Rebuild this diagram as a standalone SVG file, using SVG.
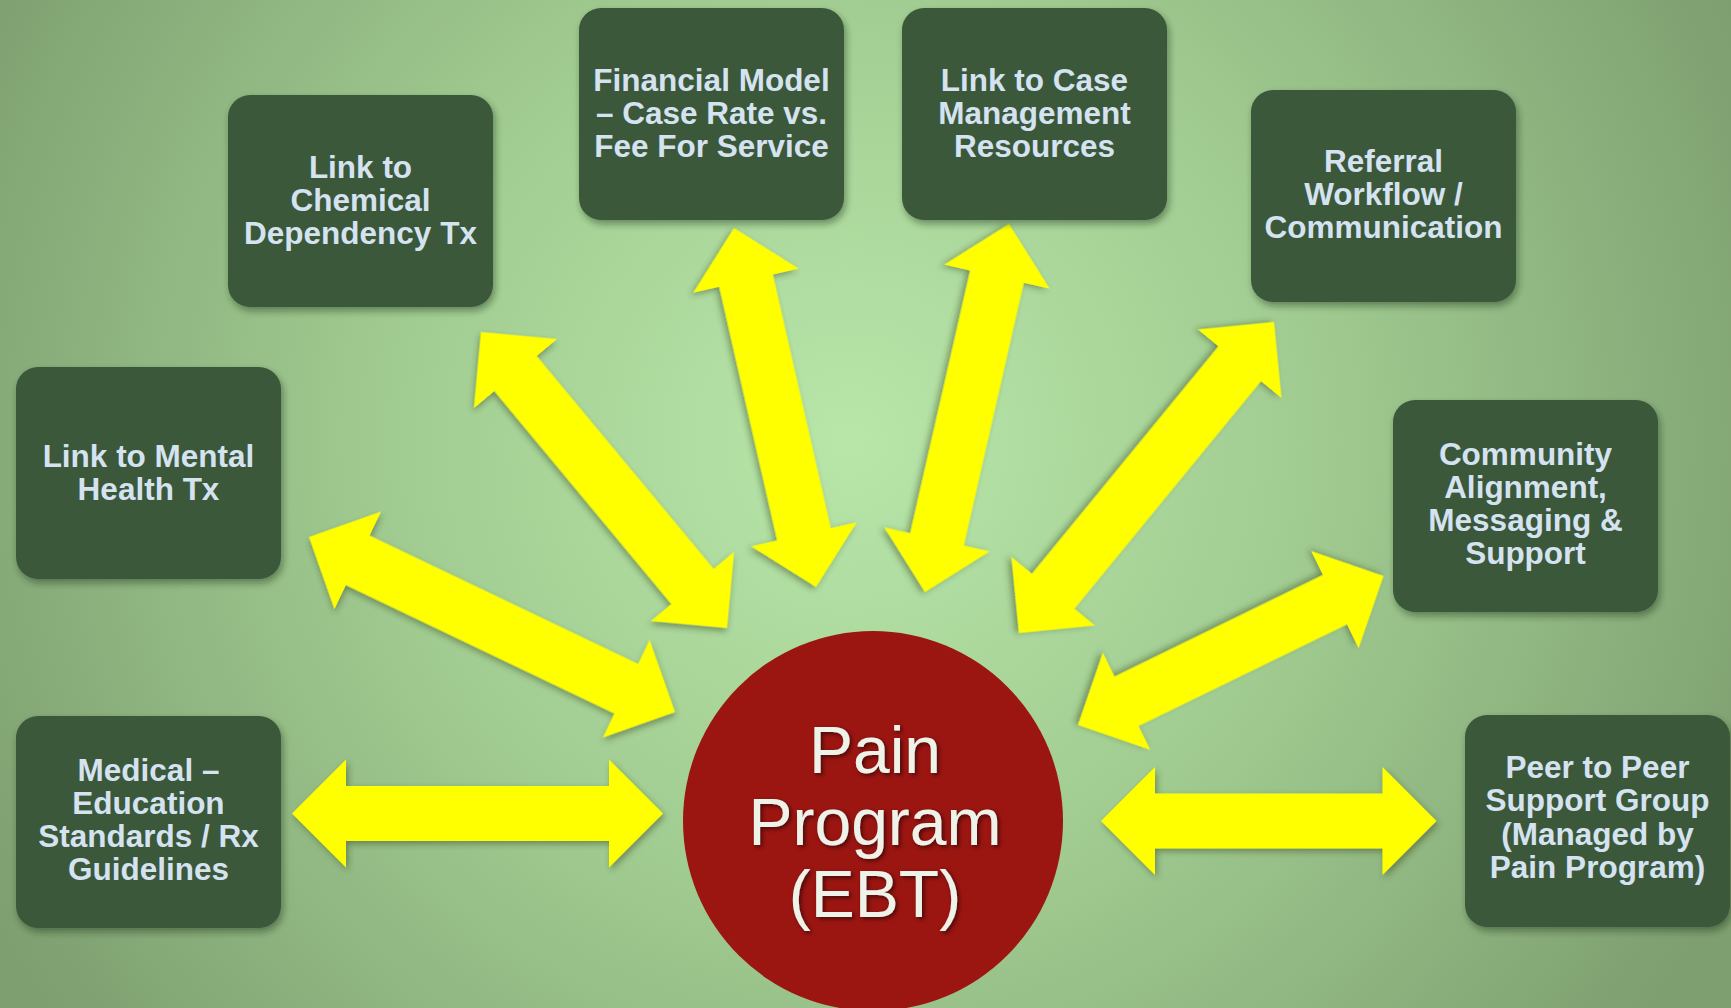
<svg xmlns="http://www.w3.org/2000/svg" width="1731" height="1008" viewBox="0 0 1731 1008">
<defs>
<radialGradient id="bg" gradientUnits="userSpaceOnUse" cx="850" cy="440" r="980">
<stop offset="0" stop-color="#B8E6A9"/>
<stop offset="0.45" stop-color="#A2CD92"/>
<stop offset="1" stop-color="#7E9F70"/>
</radialGradient>
<filter id="boxShadow" x="-10%" y="-10%" width="125%" height="130%">
<feDropShadow dx="2" dy="4" stdDeviation="3.5" flood-color="#1e2e1e" flood-opacity="0.45"/>
</filter>
<filter id="arrowShadow" x="-10%" y="-30%" width="125%" height="160%">
<feDropShadow dx="2" dy="3" stdDeviation="3" flood-color="#2a3a1a" flood-opacity="0.45"/>
</filter>
<filter id="textGlow" x="-10%" y="-20%" width="120%" height="150%">
<feDropShadow dx="2" dy="2" stdDeviation="2" flood-color="#000000" flood-opacity="0.55"/>
</filter>
<style>
.box{fill:#3A583A;filter:url(#boxShadow);}
.lbl{font-family:"Liberation Sans",Arial,sans-serif;font-weight:bold;font-size:31.5px;fill:#D5E2F0;text-anchor:middle;}
.arrow{fill:#FFFF00;filter:url(#arrowShadow);}
.hub{fill:#9B1511;}
.hubtxt{font-family:"Liberation Sans",Arial,sans-serif;font-size:66px;fill:#EEF3EA;text-anchor:middle;filter:url(#textGlow);}
</style>
</defs>
<rect x="0" y="0" width="1731" height="1008" fill="url(#bg)"/>

<g id="connectors">
<path class="arrow" transform="translate(292,813.5)" d="M0,0 54,-54 54,-27.5 317,-27.5 317,-54 371,0 317,54 317,27.5 54,27.5 54,54Z"/>
<path class="arrow" transform="translate(309,537) rotate(25.56)" d="M0,0 54,-54 54,-27.5 351.7,-27.5 351.7,-54 405.7,0 351.7,54 351.7,27.5 54,27.5 54,54Z"/>
<path class="arrow" transform="translate(481,332) rotate(50.27)" d="M0,0 54,-54 54,-27.5 330.9,-27.5 330.9,-54 384.9,0 330.9,54 330.9,27.5 54,27.5 54,54Z"/>
<path class="arrow" transform="translate(734,228) rotate(77.13)" d="M0,0 54,-54 54,-27.5 314.2,-27.5 314.2,-54 368.2,0 314.2,54 314.2,27.5 54,27.5 54,54Z"/>
<path class="arrow" transform="translate(1009,224) rotate(102.86)" d="M0,0 54,-54 54,-27.5 323.5,-27.5 323.5,-54 377.5,0 323.5,54 323.5,27.5 54,27.5 54,54Z"/>
<path class="arrow" transform="translate(1274,322) rotate(129.35)" d="M0,0 54,-54 54,-27.5 348.2,-27.5 348.2,-54 402.2,0 348.2,54 348.2,27.5 54,27.5 54,54Z"/>
<path class="arrow" transform="translate(1383.5,576) rotate(154)" d="M0,0 54,-54 54,-27.5 285.9,-27.5 285.9,-54 339.9,0 285.9,54 285.9,27.5 54,27.5 54,54Z"/>
<path class="arrow" transform="translate(1101,821)" d="M0,0 54,-54 54,-27.5 281.5,-27.5 281.5,-54 335.5,0 281.5,54 281.5,27.5 54,27.5 54,54Z"/>
</g>

<g id="node-mental">
<rect class="box" x="16" y="367" width="265" height="212" rx="22"/>
<text class="lbl" x="148.5" y="467">Link to Mental</text>
<text class="lbl" x="148.5" y="500">Health Tx</text>
</g>
<g id="node-medical">
<rect class="box" x="16" y="716" width="265" height="212" rx="22"/>
<text class="lbl" x="148.5" y="781">Medical –</text>
<text class="lbl" x="148.5" y="814">Education</text>
<text class="lbl" x="148.5" y="847">Standards / Rx</text>
<text class="lbl" x="148.5" y="880">Guidelines</text>
</g>
<g id="node-chemical">
<rect class="box" x="228" y="95" width="265" height="212" rx="22"/>
<text class="lbl" x="360.5" y="178">Link to</text>
<text class="lbl" x="360.5" y="211">Chemical</text>
<text class="lbl" x="360.5" y="244">Dependency Tx</text>
</g>
<g id="node-financial">
<rect class="box" x="579" y="8" width="265" height="212" rx="22"/>
<text class="lbl" x="711.5" y="91">Financial Model</text>
<text class="lbl" x="711.5" y="124">– Case Rate vs.</text>
<text class="lbl" x="711.5" y="157">Fee For Service</text>
</g>
<g id="node-case">
<rect class="box" x="902" y="8" width="265" height="212" rx="22"/>
<text class="lbl" x="1034.5" y="91">Link to Case</text>
<text class="lbl" x="1034.5" y="124">Management</text>
<text class="lbl" x="1034.5" y="157">Resources</text>
</g>
<g id="node-referral">
<rect class="box" x="1251" y="90" width="265" height="212" rx="22"/>
<text class="lbl" x="1383.5" y="172">Referral</text>
<text class="lbl" x="1383.5" y="205">Workflow /</text>
<text class="lbl" x="1383.5" y="238">Communication</text>
</g>
<g id="node-community">
<rect class="box" x="1393" y="400" width="265" height="212" rx="22"/>
<text class="lbl" x="1525.5" y="465">Community</text>
<text class="lbl" x="1525.5" y="498">Alignment,</text>
<text class="lbl" x="1525.5" y="531">Messaging &amp;</text>
<text class="lbl" x="1525.5" y="564">Support</text>
</g>
<g id="node-peer">
<rect class="box" x="1465" y="715" width="265" height="212" rx="22"/>
<text class="lbl" x="1597.5" y="778">Peer to Peer</text>
<text class="lbl" x="1597.5" y="811">Support Group</text>
<text class="lbl" x="1597.5" y="845">(Managed by</text>
<text class="lbl" x="1597.5" y="878">Pain Program)</text>
</g>
<g id="node-hub">
<circle class="hub" cx="873" cy="821" r="190"/>
<text class="hubtxt" x="875" y="773">Pain</text>
<text class="hubtxt" x="875" y="845">Program</text>
<text class="hubtxt" x="875" y="917">(EBT)</text>
</g>
</svg>
